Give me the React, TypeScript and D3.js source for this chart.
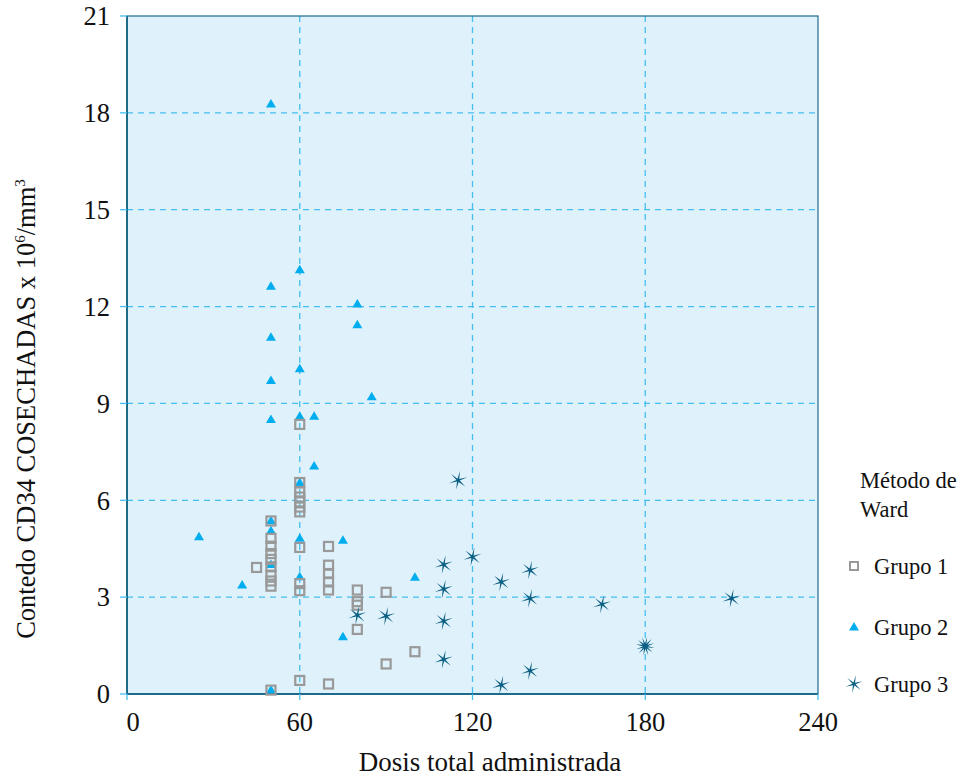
import React from "react";
import * as d3 from "d3";

const xTicks = [0, 60, 120, 180, 240];
const yTicks = [0, 3, 6, 9, 12, 15, 18, 21];

const grupo1X = [50, 50, 50, 50, 50, 50, 50, 50, 50, 50, 45, 60, 60, 60, 60, 60, 60, 60, 60, 60, 60, 60, 70, 70, 70, 70, 70, 70, 80, 80, 80, 80, 90, 90, 100];
const grupo1Y = [5.36, 4.82, 4.58, 4.35, 4.17, 3.94, 3.68, 3.5, 3.34, 0.12, 3.92, 8.35, 6.55, 6.26, 6.1, 5.95, 5.79, 5.64, 4.54, 3.42, 3.2, 0.42, 4.57, 3.99, 3.73, 3.47, 3.22, 0.31, 3.22, 2.86, 2.75, 2.0, 3.15, 0.93, 1.31];

const grupo2X = [50, 60, 50, 80, 80, 50, 60, 50, 85, 50, 60, 65, 65, 60, 50, 50, 25, 60, 75, 50, 40, 60, 100, 75, 50];
const grupo2Y = [18.27, 13.14, 12.63, 12.08, 11.43, 11.05, 10.07, 9.71, 9.2, 8.5, 8.6, 8.6, 7.06, 6.55, 5.36, 5.05, 4.87, 4.82, 4.76, 4.01, 3.37, 3.63, 3.61, 1.77, 0.12];

const grupo3X = [115, 120, 110, 140, 130, 110, 140, 165, 210, 110, 180, 180, 110, 140, 130, 80, 90];
const grupo3Y = [6.62, 4.25, 4.01, 3.84, 3.47, 3.25, 2.96, 2.78, 2.96, 2.26, 1.48, 1.48, 1.07, 0.72, 0.28, 2.44, 2.41];

const legendLabels = ["Grupo 1", "Grupo 2", "Grupo 3"];

const W = 976;
const H = 779;
const left = 127;
const right = 818;
const top = 16;
const bottom = 694;

const BG = "#dff1fb";
const GRID = "#45bff0";
const AXIS = "#1d6a8a";
const SQ = "#999999";
const TRI = "#00aeef";
const STAR = "#0b5f82";
const FONT = "Liberation Serif, DejaVu Serif, serif";

function starPath(cx: number, cy: number, rOut: number, rIn: number, rot: number) {
  const pts: string[] = [];
  for (let i = 0; i < 12; i++) {
    const r = i % 2 === 0 ? rOut : rIn;
    const a = rot + (i * Math.PI) / 6 - Math.PI / 2;
    pts.push(`${cx + r * Math.cos(a)},${cy + r * Math.sin(a)}`);
  }
  return "M" + pts.join("L") + "Z";
}

function triPath(cx: number, cy: number, w: number, h: number) {
  return `M${cx},${cy - h * 0.6}L${cx + w / 2},${cy + h * 0.4}L${cx - w / 2},${cy + h * 0.4}Z`;
}

const txt: React.CSSProperties = { fontFamily: FONT, fill: "#111" };

export default function App() {
  const x = d3.scaleLinear().domain([0, 240]).range([left, right]);
  const y = d3.scaleLinear().domain([0, 21]).range([bottom, top]);

  const seen = new Map<string, number>();
  const stars = grupo3X.map((gx, i) => {
    const key = `${gx}_${grupo3Y[i]}`;
    const n = seen.get(key) || 0;
    seen.set(key, n + 1);
    return { x: gx, y: grupo3Y[i], rot: 0.2 + n * (Math.PI / 6) };
  });

  return (
    <svg width={W} height={H} style={{ position: "absolute", left: 0, top: 0, background: "#fff" }}>
      <rect x={left} y={top} width={right - left} height={bottom - top} fill={BG} />
      {yTicks.slice(1, -1).map((t) => (
        <line key={"gy" + t} x1={left} x2={right} y1={y(t)} y2={y(t)} stroke={GRID} strokeWidth={1.3} strokeDasharray="6,5" />
      ))}
      {xTicks.slice(1, -1).map((t) => (
        <line key={"gx" + t} x1={x(t)} x2={x(t)} y1={top} y2={bottom} stroke={GRID} strokeWidth={1.3} strokeDasharray="6,5" />
      ))}
      <rect x={left} y={top} width={right - left} height={bottom - top} fill="none" stroke={AXIS} strokeWidth={1.2} />
      <line x1={left} x2={left} y1={top} y2={bottom} stroke={AXIS} strokeWidth={2} />
      <line x1={left} x2={right} y1={bottom} y2={bottom} stroke={AXIS} strokeWidth={2} />
      {yTicks.map((t) => (
        <g key={"yt" + t}>
          <line x1={left - 7} x2={left} y1={y(t)} y2={y(t)} stroke={GRID} strokeWidth={1.3} />
          <text x={110} y={y(t)} dy="0.35em" textAnchor="end" style={{ ...txt, fontSize: 26.5 }}>{t}</text>
        </g>
      ))}
      {xTicks.map((t) => (
        <g key={"xt" + t}>
          <line x1={x(t)} x2={x(t)} y1={bottom} y2={bottom + 6} stroke={GRID} strokeWidth={1.3} />
          <text x={x(t) + (t === 0 ? 6 : 0)} y={731} textAnchor="middle" style={{ ...txt, fontSize: 26.5 }}>{t}</text>
        </g>
      ))}
      {grupo2X.map((gx, i) => (
        <path key={"t" + i} d={triPath(x(gx), y(grupo2Y[i]), 10, 8.5)} fill={TRI} />
      ))}
      {grupo1X.map((gx, i) => (
        <rect key={"s" + i} x={x(gx) - 4.5} y={y(grupo1Y[i]) - 4.5} width={9} height={9} fill="none" stroke={SQ} strokeWidth={2.2} />
      ))}
      {stars.map((s, i) => (
        <path key={"st" + i} d={starPath(x(s.x), y(s.y), 9.5, 1.7, s.rot)} fill={STAR} />
      ))}
      <text x={490} y={771} textAnchor="middle" style={{ ...txt, fontSize: 27 }}>Dosis total administrada</text>
      <text transform={`translate(35,409) rotate(-90)`} textAnchor="middle" style={{ ...txt, fontSize: 26.5 }}>
        Contedo CD34 COSECHADAS x 10<tspan dy="-10" style={{ fontSize: 15 }}>6</tspan><tspan dy="10">/mm</tspan><tspan dy="-10" style={{ fontSize: 15 }}>3</tspan>
      </text>
      <text x={860} y={488} style={{ ...txt, fontSize: 22.5 }}>Método de</text>
      <text x={860} y={517} style={{ ...txt, fontSize: 22.5 }}>Ward</text>
      {legendLabels.map((l, i) => {
        const ly = [566, 627, 684][i];
        return (
          <g key={l}>
            {i === 0 && <rect x={850} y={ly - 4} width={8} height={8} fill="none" stroke={SQ} strokeWidth={2} />}
            {i === 1 && <path d={triPath(854, ly, 10, 8.5)} fill={TRI} />}
            {i === 2 && <path d={starPath(854, ly, 9, 1.6, 0.2)} fill={STAR} />}
            <text x={874} y={ly} dy="0.35em" style={{ ...txt, fontSize: 22.5 }}>{l}</text>
          </g>
        );
      })}
    </svg>
  );
}
